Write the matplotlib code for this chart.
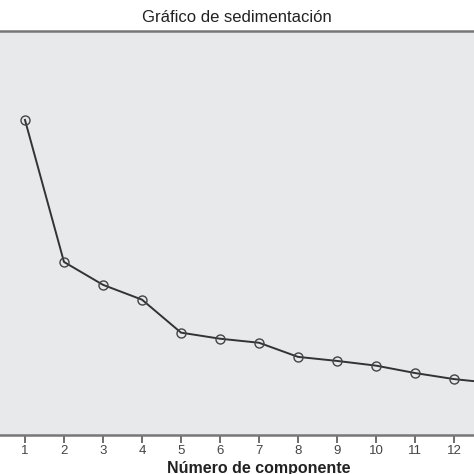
import matplotlib.pyplot as plt

# Valores (escala del eje y estimada)
componentes = [1, 2, 3, 4, 5, 6, 7, 8, 9, 10, 11, 12, 13]
autovalores = [4.68, 2.57, 2.23, 2.01, 1.52, 1.43, 1.37, 1.16, 1.10, 1.03, 0.92, 0.83, 0.77]
ticks_x = [1, 2, 3, 4, 5, 6, 7, 8, 9, 10, 11, 12]
etiquetas_x = [str(c) for c in ticks_x]

plt.rcParams['font.family'] = ['Liberation Sans', 'DejaVu Sans']

fig = plt.figure(figsize=(4.74, 4.74), dpi=100)
ax = fig.add_axes([0, 0.0823, 1.0, 0.8523])
ax.set_facecolor('#e8e9eb')

ax.plot(componentes, autovalores, color='#333333', linewidth=1.4,
        marker='o', markersize=6.5, markerfacecolor='none',
        markeredgecolor='#444444', markeredgewidth=1.0)

ax.set_xticks(ticks_x)
ax.set_xticklabels(etiquetas_x, fontsize=9.5, color='#444444')
ax.set_yticks([])
ax.set_xlim(0.36, 12.51)
ax.set_ylim(0, 6)
ax.tick_params(axis='x', direction='out', length=6, width=1.2, color='#555555', pad=1.5)

for lado in ['left', 'right']:
    ax.spines[lado].set_visible(False)
for lado in ['top', 'bottom']:
    ax.spines[lado].set_color('#777777')
    ax.spines[lado].set_linewidth(1.8)

fig.text(237 / 474, 1 - 18 / 474, 'Gráfico de sedimentación', ha='center', va='center',
         fontsize=12, color='#222222')
fig.text(259 / 474, 1 - 468 / 474, 'Número de componente', ha='center', va='center',
         fontsize=11.5, fontweight='bold', color='#222222')

fig.savefig('out.png', dpi=100)
